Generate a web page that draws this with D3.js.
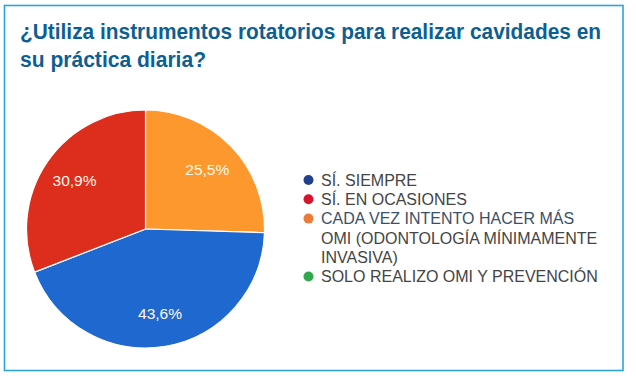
<!DOCTYPE html>
<html><head><meta charset="utf-8">
<script src="https://cdn.jsdelivr.net/npm/d3@7"></script>
<style>html,body{margin:0;padding:0;background:#fff;}svg{display:block;}</style>
</head><body>
<svg id="c" width="636" height="379"></svg>
<script>
const titleLines = ["¿Utiliza instrumentos rotatorios para realizar cavidades en", "su práctica diaria?"];
const categories = ["SÍ. SIEMPRE", "SÍ. EN OCASIONES", "CADA VEZ INTENTO HACER MÁS OMI (ODONTOLOGÍA MÍNIMAMENTE INVASIVA)", "SOLO REALIZO OMI Y PREVENCIÓN"];
const values = [43.6, 30.9, 25.5, 0];
const valueLabels = ["43,6%", "30,9%", "25,5%", ""];
const sliceColors = ["#1f68cf", "#dc2d1d", "#fd982f", "#2fa84a"];
const legendColors = ["#223f8e", "#d8142c", "#e97b3b", "#30a84b"];
const drawOrder = [2, 0, 1, 3];

const svg = d3.select("#c");

svg.append("rect").attr("x", 4.5).attr("y", 5.5).attr("width", 618.5).attr("height", 365)
  .attr("fill", "#fff").attr("stroke", "#2aa4dc").attr("stroke-width", 1.6);

const titleWidths = [581, 186];
titleLines.forEach((t, i) => {
  svg.append("text").attr("x", 20).attr("y", 39 + i * 28)
    .attr("font-family", "'Liberation Sans Narrow', 'Liberation Sans', Arial, sans-serif")
    .attr("font-weight", "bold").attr("font-size", 22).attr("fill", "#0d5f93")
    .attr("textLength", titleWidths[i]).attr("lengthAdjust", "spacingAndGlyphs").text(t);
});

const cx = 145.5, cy = 229, r = 119;
const pieData = drawOrder.map(i => ({ i, value: values[i] })).filter(d => d.value > 0);
const pie = d3.pie().sort(null).value(d => d.value);
const arc = d3.arc().innerRadius(0).outerRadius(r);
const labelArc = d3.arc().innerRadius(86).outerRadius(86);
const g = svg.append("g").attr("transform", `translate(${cx},${cy})`);
const arcs = pie(pieData);
g.selectAll("path").data(arcs).join("path")
  .attr("d", arc).attr("fill", d => sliceColors[d.data.i])
  .attr("stroke", "#fff").attr("stroke-width", 1.2);
g.selectAll("text").data(arcs).join("text")
  .attr("transform", d => `translate(${labelArc.centroid(d)})`)
  .attr("text-anchor", "middle").attr("dy", "0.36em")
  .attr("font-family", "'Liberation Sans', Arial, sans-serif").attr("font-size", 15.5)
  .attr("fill", "#fff8ec").text(d => valueLabels[d.data.i]);

const lg = svg.append("g");
const lx = 321, ly0 = 180, lh = 19.3, maxW = 280, fs = 16;
let line = 0;
categories.forEach((c, i) => {
  const y = ly0 + line * lh;
  lg.append("circle").attr("cx", 308.5).attr("cy", y).attr("r", 5).attr("fill", legendColors[i]);
  const words = c.split(" ");
  let cur = [];
  const lines = [];
  const probe = lg.append("text").attr("font-family", "'Liberation Sans', Arial, sans-serif").attr("font-size", fs);
  words.forEach(w => {
    const test = cur.concat([w]).join(" ");
    probe.text(test);
    if (probe.node().getComputedTextLength() > maxW && cur.length) { lines.push(cur.join(" ")); cur = [w]; }
    else cur.push(w);
  });
  lines.push(cur.join(" "));
  probe.remove();
  lines.forEach((l, k) => {
    lg.append("text").attr("x", lx).attr("y", ly0 + line * lh).attr("dy", "0.36em")
      .attr("font-family", "'Liberation Sans', Arial, sans-serif").attr("font-size", fs)
      .attr("fill", (i === 2 && k === 0) ? "#3a5068" : "#444").text(l);
    line++;
  });
});
</script>
</body></html>
